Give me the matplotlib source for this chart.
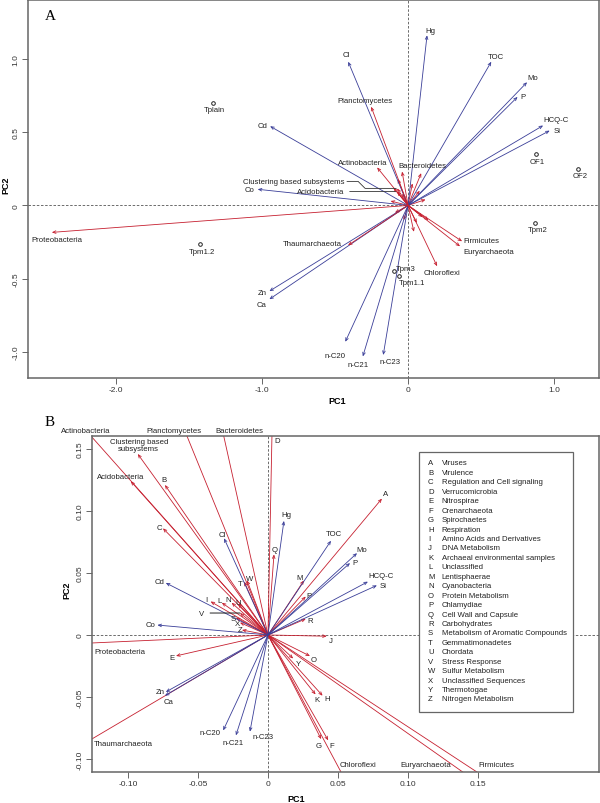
import numpy as np
import matplotlib
matplotlib.use('Agg')
import matplotlib.pyplot as plt
from matplotlib.patches import FancyArrowPatch, Rectangle
from matplotlib.transforms import IdentityTransform

plt.rcParams['font.family'] = ['Liberation Sans', 'DejaVu Sans']

BLUE = '#3a3e98'
RED = '#c62030'
FRAME = '#666666'
TXT = '#222222'

# ---------------- panel A data ----------------
envA_names = ['Hg', 'Cl', 'TOC', 'Mo', 'P', 'HCQ-C', 'Si', 'Cd', 'Co', 'Zn', 'Ca',
              'n-C20', 'n-C21', 'n-C23']
envA_x = [0.13, -0.41, 0.57, 0.815, 0.75, 0.925, 0.97, -0.945, -1.03, -0.95, -0.95,
          -0.43, -0.31, -0.17]
envA_y = [1.16, 0.98, 0.98, 0.84, 0.74, 0.545, 0.51, 0.54, 0.11, -0.585, -0.64,
          -0.93, -1.03, -1.02]

taxA_names = ['Planctomycetes', 'Actinobacteria', 'Bacteroidetes',
              'Clustering based subsystems', 'Acidobacteria', 'Proteobacteria',
              'Thaumarchaeota', 'Firmicutes', 'Euryarchaeota', 'Chloroflexi']
taxA_x = [-0.253, -0.212, -0.041, -0.075, -0.075, -2.44, -0.411, 0.37, 0.356, 0.199]
taxA_y = [0.673, 0.259, 0.231, 0.116, 0.095, -0.184, -0.272, -0.245, -0.279, -0.415]

# short functional vectors around the origin
funA_x = [-0.10, -0.07, -0.04, 0.03, 0.08, 0.12, 0.10, -0.12, -0.09, 0.06, 0.14, 0.04, -0.03, 0.09]
funA_y = [0.12, 0.18, 0.08, 0.15, 0.10, 0.04, -0.08, 0.03, -0.05, -0.12, -0.10, -0.18, -0.10, 0.22]

sampA_names = ['Tplain', 'OF1', 'OF2', 'Tpm2', 'Tpm1.2', 'Tpm3', 'Tpm1.1']
sampA_x = [-1.335, 0.875, 1.165, 0.87, -1.425, -0.095, -0.06]
sampA_y = [0.70, 0.35, 0.245, -0.117, -0.265, -0.45, -0.48]

# ---------------- panel B data ----------------
envB_names = envA_names
envB_x = [0.0114, -0.0314, 0.045, 0.0636, 0.0586, 0.0714, 0.0778, -0.073, -0.079, -0.073,
          -0.0736, -0.032, -0.0229, -0.0129]
envB_y = [0.092, 0.078, 0.076, 0.066, 0.058, 0.043, 0.040, 0.042, 0.008, -0.046,
          -0.049, -0.077, -0.081, -0.078]

taxB_names = ['Actinobacteria', 'Planctomycetes', 'Bacteroidetes',
              'Clustering based\nsubsystems', 'Acidobacteria', 'Proteobacteria',
              'Thaumarchaeota', 'Chloroflexi', 'Euryarchaeota', 'Firmicutes']
taxB_x = [-0.13, -0.0595, -0.0325, -0.093, -0.098, -0.14, -0.14, 0.0566, 0.151, 0.162]
taxB_y = [0.165, 0.165, 0.165, 0.146, 0.124, -0.0072, -0.0934, -0.12, -0.12, -0.12]

cat_letters = list('ABCDEFGHIJKLMNOPQRSTUVWXYZ')
cat_x = [0.0814, -0.0736, -0.075, 0.003, -0.0657, 0.043, 0.038, 0.039, -0.041, 0.042,
         0.034, -0.033, 0.0257, -0.026, 0.030, 0.027, 0.0043, 0.027, -0.023, -0.017,
         -0.0214, -0.020, -0.015, -0.020, 0.018, -0.0186]
cat_y = [0.110, 0.121, 0.086, 0.170, -0.0169, -0.085, -0.084, -0.049, 0.027, -0.001,
         -0.048, 0.026, 0.044, 0.026, -0.017, 0.031, 0.065, 0.013, 0.014, 0.043,
         0.025, 0.0177, 0.044, 0.010, -0.019, 0.004]
cat_names = ['Viruses', 'Virulence', 'Regulation and Cell signaling', 'Verrucomicrobia',
             'Nitrospirae', 'Crenarchaeota', 'Spirochaetes', 'Respiration',
             'Amino Acids and Derivatives', 'DNA Metabolism',
             'Archaeal environmental samples', 'Unclassified', 'Lentisphaerae',
             'Cyanobacteria', 'Protein Metabolism', 'Chlamydiae', 'Cell Wall and Capsule',
             'Carbohydrates', 'Metabolism of Aromatic Compounds', 'Gemmatimonadetes',
             'Chordata', 'Stress Response', 'Sulfur Metabolism', 'Unclassified Sequences',
             'Thermotogae', 'Nitrogen Metabolism']

# label offsets in pixels (x, y up), alignment
offA = {'Hg': (3, 5), 'Cl': (-2, 7), 'TOC': (5, 5), 'Mo': (6, 5), 'P': (5, 0),
        'HCQ-C': (13, 6), 'Si': (7, 0), 'Cd': (-8, 1), 'Co': (-8, 0), 'Zn': (-7, -1),
        'Ca': (-8, -5), 'n-C20': (-10, -14), 'n-C21': (-5, -8), 'n-C23': (7, -7),
        'Planctomycetes': (-6, 6), 'Actinobacteria': (-14, 5), 'Bacteroidetes': (20, 6),
        'Proteobacteria': (5, -7), 'Chloroflexi': (5, -6),
        'Tplain': (1, -7), 'OF1': (1, -7), 'OF2': (2, -6), 'Tpm2': (3, -7),
        'Tpm1.2': (2, -7), 'Tpm3': (12, 3), 'Tpm1.1': (13, -7)}
leftA = {'Firmicutes': (1, 1), 'Euryarchaeota': (3, -5)}
rightA = {'Thaumarchaeota': (-6, 2)}

offB = {'Hg': (2, 6), 'Cl': (-2, 4), 'TOC': (3, 7), 'Mo': (5, 4), 'P': (5, 1),
        'HCQ-C': (13, 6), 'Si': (6, 0), 'Cd': (-6, 1), 'Co': (-7, 1), 'Zn': (-6, 0),
        'Ca': (4, -6), 'n-C20': (-13, -2), 'n-C21': (-3, -7), 'n-C23': (13, -5),
        'Actinobacteria': (0, 0), 'Planctomycetes': (-11, 0), 'Bacteroidetes': (17, 0),
        'Clustering based\nsubsystems': (1, 9), 'Acidobacteria': (-10, 5),
        'Chloroflexi': (11, 19), 'Euryarchaeota': (-54, 19), 'Firmicutes': (2, 19)}
leftB = {'Proteobacteria': (22, -8), 'Thaumarchaeota': (22, 7)}
offCat = {'A': (4, 5), 'B': (-1, 5), 'C': (-4, 1), 'D': (5, -16), 'E': (-4, -2),
          'F': (4, -5), 'G': (-3, -6), 'H': (5, -3), 'I': (-4, 2), 'J': (4, -4),
          'K': (1, -5), 'L': (-2, 2), 'M': (-4, 3), 'N': (-3, 3), 'O': (4, -3),
          'P': (3, 1), 'Q': (1, 5), 'R': (4, -2), 'S': (-3, -1), 'T': (-4, -2),
          'U': (0, 1), 'W': (3, 2), 'X': (-3, -1), 'Y': (5, -5), 'Z': (-2, 1)}

FS = 5.6


def vec(ax, x, y, color, lw=0.6):
    ax.add_patch(FancyArrowPatch((0, 0), (x, y),
                                 arrowstyle='->,head_length=0.4,head_width=0.17',
                                 mutation_scale=5.5, color=color, lw=lw,
                                 shrinkA=0, shrinkB=0))


def lab(ax, x, y, text, off, ha='center'):
    ax.annotate(text, (x, y), xytext=off, textcoords='offset pixels', ha=ha,
                va='center', fontsize=FS, color=TXT, annotation_clip=False,
                linespacing=0.95)


def style(ax):
    for s in ax.spines.values():
        s.set_color(FRAME)
        s.set_linewidth(1.1)
    ax.tick_params(direction='out', length=4, width=0.7, color=FRAME,
                   labelsize=6, labelcolor='#333333', pad=2)
    for t in ax.get_yticklabels():
        t.set_rotation(90)
        t.set_va('center')
    ax.axhline(0, ls=(0, (3, 2)), color='#555555', lw=0.6, zorder=0)
    ax.axvline(0, ls=(0, (3, 2)), color='#555555', lw=0.6, zorder=0)


fig = plt.figure(figsize=(6, 8.04), dpi=100)

# ---------------- panel A ----------------
axA = fig.add_axes([0.0467, 0.5286, 0.9517, 0.4702])
axA.set_xlim(-2.603, 1.308)
axA.set_ylim(-1.177, 1.401)
axA.set_xticks([-2.0, -1.0, 0, 1.0])
axA.set_xticklabels(['-2.0', '-1.0', '0', '1.0'])
axA.set_yticks([-1.0, -0.5, 0, 0.5, 1.0])
axA.set_yticklabels(['-1.0', '-0.5', '0', '0.5', '1.0'])
style(axA)

for x, y in zip(funA_x, funA_y):
    vec(axA, x, y, RED)
for n, x, y in zip(envA_names, envA_x, envA_y):
    vec(axA, x, y, BLUE)
    lab(axA, x, y, n, offA[n])
for n, x, y in zip(taxA_names, taxA_x, taxA_y):
    vec(axA, x, y, RED)
    if n in offA:
        lab(axA, x, y, n, offA[n])
    elif n in leftA:
        lab(axA, x, y, n, leftA[n], ha='left')
    elif n in rightA:
        lab(axA, x, y, n, rightA[n], ha='right')

fig.canvas.draw()
# leader lines for the two crowded labels
i = taxA_names.index('Acidobacteria')
axA.annotate('Acidobacteria', (taxA_x[i], taxA_y[i]), xytext=(-53, 0),
             textcoords='offset pixels', ha='right', va='center', fontsize=FS, color=TXT,
             arrowprops=dict(arrowstyle='-', color='#333333', lw=0.6, shrinkA=2, shrinkB=1))
i = taxA_names.index('Clustering based subsystems')
axA.annotate('Clustering based subsystems', (taxA_x[i], taxA_y[i]), xytext=(-53, 7),
             textcoords='offset pixels', ha='right', va='center', fontsize=FS, color=TXT)
tip = axA.transData.transform((taxA_x[i], taxA_y[i]))
bend = tip + np.array([[-50, 7], [-39, 7], [-32, 0], [-1, 0]])
axA.plot(bend[:, 0], bend[:, 1], color='#333333', lw=0.6, transform=IdentityTransform())

axA.plot(sampA_x, sampA_y, 'o', mfc='none', mec='#222222', ms=2.6, mew=0.7, zorder=5)
for n, x, y in zip(sampA_names, sampA_x, sampA_y):
    lab(axA, x, y, n, offA[n])

# ---------------- panel B ----------------
axB = fig.add_axes([0.1533, 0.0386, 0.845, 0.4179])
axB.set_xlim(-0.1257, 0.2364)
axB.set_ylim(-0.1105, 0.1605)
axB.set_xticks([-0.10, -0.05, 0, 0.05, 0.10, 0.15])
axB.set_xticklabels(['-0.10', '-0.05', '0', '0.05', '0.10', '0.15'])
axB.set_yticks([-0.10, -0.05, 0, 0.05, 0.10, 0.15])
axB.set_yticklabels(['-0.10', '-0.05', '0', '0.05', '0.10', '0.15'])
style(axB)

for L, x, y in zip(cat_letters, cat_x, cat_y):
    vec(axB, x, y, RED)
    if L == 'V':
        axB.annotate('V', (x, y), xytext=(-38, 0), textcoords='offset pixels',
                     ha='center', va='center', fontsize=FS, color=TXT,
                     arrowprops=dict(arrowstyle='-', color='#222222', lw=0.7,
                                     shrinkA=2, shrinkB=0))
    else:
        lab(axB, x, y, L, offCat[L])
for n, x, y in zip(taxB_names, taxB_x, taxB_y):
    vec(axB, x, y, RED)
    if n in offB:
        lab(axB, x, y, n, offB[n])
    else:
        lab(axB, x, y, n, leftB[n], ha='left')
for n, x, y in zip(envB_names, envB_x, envB_y):
    vec(axB, x, y, BLUE)
    lab(axB, x, y, n, offB[n])

# legend box of category letters
axB.add_patch(Rectangle((0.645, 0.1786), 0.304, 0.7735, transform=axB.transAxes,
                        facecolor='white', edgecolor=FRAME, lw=0.9, zorder=6))
ys = np.linspace(0.9196, 0.2173, len(cat_letters))
for yy, L, n in zip(ys, cat_letters, cat_names):
    axB.text(0.663, yy, L, transform=axB.transAxes, fontsize=FS, color=TXT,
             va='center', ha='left', zorder=7)
    axB.text(0.690, yy, n, transform=axB.transAxes, fontsize=FS, color=TXT,
             va='center', ha='left', zorder=7)

# axis titles and panel letters
fig.text(0.5617, 0.500, 'PC1', fontsize=6.5, fontweight='bold', ha='center', va='center')
fig.text(0.010, 0.770, 'PC2', fontsize=6.5, fontweight='bold', ha='center', va='center',
         rotation=90)
fig.text(0.4933, 0.0062, 'PC1', fontsize=6.5, fontweight='bold', ha='center', va='center')
fig.text(0.1117, 0.2662, 'PC2', fontsize=6.5, fontweight='bold', ha='center', va='center',
         rotation=90)
fig.text(0.0833, 0.980, 'A', fontsize=11, family='Liberation Serif', ha='center', va='center')
fig.text(0.0833, 0.474, 'B', fontsize=11, family='Liberation Serif', ha='center', va='center')

fig.savefig('out.png', dpi=100)
